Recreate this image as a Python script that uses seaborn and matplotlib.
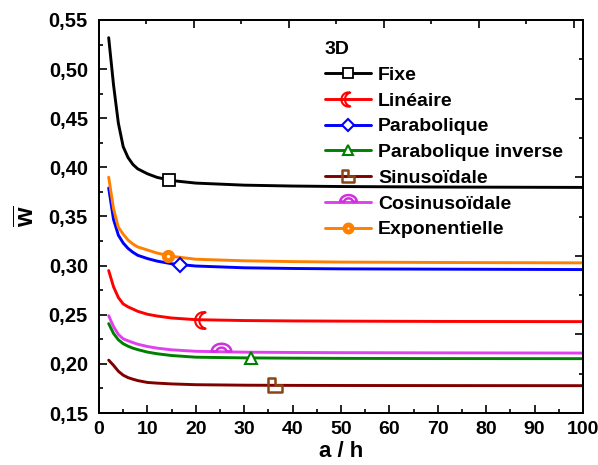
import numpy as np
import pandas as pd
import seaborn as sns
import matplotlib
matplotlib.use("Agg")
import matplotlib.pyplot as plt
from matplotlib.path import Path
from matplotlib.lines import Line2D
from matplotlib.ticker import MultipleLocator, FuncFormatter

# ---- data: dimensionless deflection vs slenderness ratio a/h ----
a_h = [2, 3, 4, 5, 6, 7, 8, 10, 12, 15, 20, 30, 40, 50, 70, 100]

w_fixe = [0.532, 0.484, 0.445, 0.421, 0.410, 0.403, 0.3985, 0.3935, 0.3898, 0.3866, 0.3840, 0.3819, 0.3810, 0.3805, 0.3800, 0.3796]
w_lineaire = [0.295, 0.2785, 0.2675, 0.261, 0.258, 0.2558, 0.2535, 0.2505, 0.2487, 0.2467, 0.2450, 0.2441, 0.2437, 0.2435, 0.2432, 0.2430]
w_parabolique = [0.379, 0.347, 0.331, 0.323, 0.3175, 0.3136, 0.3105, 0.3072, 0.3046, 0.3019, 0.2996, 0.2978, 0.2971, 0.2967, 0.2964, 0.2960]
w_parab_inverse = [0.241, 0.231, 0.2245, 0.2205, 0.218, 0.216, 0.2145, 0.2120, 0.2103, 0.2085, 0.2068, 0.2061, 0.2058, 0.2056, 0.2054, 0.2053]
w_sinus = [0.2038, 0.1985, 0.1925, 0.1885, 0.186, 0.1844, 0.1830, 0.1811, 0.1804, 0.1796, 0.1788, 0.1783, 0.1781, 0.1780, 0.1779, 0.1778]
w_cosinus = [0.249, 0.238, 0.230, 0.2255, 0.2235, 0.2217, 0.2200, 0.2177, 0.2160, 0.2143, 0.2128, 0.2119, 0.2116, 0.2114, 0.2112, 0.2110]
w_expo = [0.390, 0.358, 0.339, 0.332, 0.326, 0.322, 0.319, 0.3159, 0.3128, 0.3095, 0.3065, 0.3049, 0.3041, 0.3036, 0.3032, 0.3028]

labels = ["Fixe", "Linéaire", "Parabolique", "Parabolique inverse",
          "Sinusoïdale", "Cosinusoïdale", "Exponentielle"]
series = [w_fixe, w_lineaire, w_parabolique, w_parab_inverse, w_sinus, w_cosinus, w_expo]

# single symbol shown on each curve
marker_x = [14.5, 21.5, 16.7, 31.4, 36.4, 25.3, 14.2]
marker_y = [0.3870, 0.2448, 0.3004, 0.2060, 0.1782, 0.2123, 0.3100]

line_colors = ["#000000", "#FF0000", "#0000FF", "#008000", "#800000", "#E040F0", "#FF8000"]
marker_colors = ["#000000", "#FF0000", "#0000FF", "#008000", "#8B4513", "#D030E0", "#FF8000"]

# ---- custom symbols ----
def crescent():
    # unit disc minus a unit disc shifted to the right
    t1 = np.linspace(np.arccos(0.25), 2 * np.pi - np.arccos(0.25), 40)
    outer = np.c_[np.cos(t1), np.sin(t1)]
    t2 = np.linspace(np.arctan2(-0.968, -0.25) + 2 * np.pi, np.arctan2(0.968, -0.25), 40)
    inner = np.c_[0.5 + np.cos(t2), np.sin(t2)]
    verts = np.vstack([outer, inner, outer[:1]])
    return Path(verts, closed=True)

def step_shape():
    verts = [(-1, 1), (0, 1), (0, 0), (1, 0), (1, -1), (-1, -1), (-1, 1)]
    return Path(verts, closed=True)

def arch():
    # half ring standing on the curve
    t = np.linspace(np.pi, 0, 30)
    outer = np.c_[np.cos(t), np.sin(t)]
    inner = np.c_[0.5 * np.cos(t[::-1]), 0.5 * np.sin(t[::-1])]
    verts = np.vstack([outer, inner, outer[:1]])
    verts[:, 1] = verts[:, 1] * 0.8 + 0.1
    return Path(verts, closed=True)

markers = ["s", crescent(), "D", "^", step_shape(), arch(), "o"]
msizes = [8, 12, 7.5, 9, 10.5, 14, 6]
mews = [1.3, 1.5, 1.5, 1.5, 1.8, 1.8, 3.5]
faces = ["white", "none", "white", "white", "none", "none", "white"]

df = pd.concat(
    [pd.DataFrame({"a_h": a_h, "w": s, "serie": lab}) for s, lab in zip(series, labels)],
    ignore_index=True,
)

# ---- style ----
sns.set_theme(style="ticks")
plt.rcParams["font.family"] = ["Liberation Sans", "DejaVu Sans"]
plt.rcParams["font.weight"] = "bold"
plt.rcParams["text.color"] = "black"
plt.rcParams["axes.labelcolor"] = "black"
plt.rcParams["xtick.color"] = "black"
plt.rcParams["ytick.color"] = "black"
plt.rcParams["axes.edgecolor"] = "black"
plt.rcParams["mathtext.fontset"] = "custom"
plt.rcParams["mathtext.rm"] = "Liberation Sans:bold"
plt.rcParams["mathtext.it"] = "Liberation Sans:bold"
plt.rcParams["mathtext.bf"] = "Liberation Sans:bold"

fig = plt.figure(figsize=(5.98, 4.65), dpi=100)
ax = fig.add_axes([99 / 598, 1 - 413 / 465, 484 / 598, 393 / 465])

sns.lineplot(data=df, x="a_h", y="w", hue="serie", hue_order=labels,
             palette=dict(zip(labels, line_colors)), linewidth=2.1,
             legend=False, ax=ax, zorder=2)

for i in range(len(labels)):
    ax.plot(marker_x[i], marker_y[i], linestyle="none", marker=markers[i],
            markersize=msizes[i], markerfacecolor=faces[i],
            markeredgecolor=marker_colors[i], markeredgewidth=mews[i], zorder=3)

ax.set_xlim(0, 100)
ax.set_ylim(0.15, 0.55)
ax.xaxis.set_major_locator(MultipleLocator(10))
ax.xaxis.set_minor_locator(MultipleLocator(5))
ax.yaxis.set_major_locator(MultipleLocator(0.05))
ax.yaxis.set_minor_locator(MultipleLocator(0.025))
ax.yaxis.set_major_formatter(FuncFormatter(lambda v, p: f"{v:.2f}".replace(".", ",")))

ax.tick_params(which="both", direction="in", width=1.2, colors="black")
ax.tick_params(axis="x", labelsize=14)
ax.tick_params(axis="y", labelsize=14.5)
ax.tick_params(which="major", length=5.5)
ax.tick_params(axis="x", which="major", pad=6)
ax.tick_params(axis="y", which="major", pad=8)
ax.tick_params(which="minor", length=3)
for lab in ax.get_xticklabels() + ax.get_yticklabels():
    lab.set_fontweight("bold")
for sp in ax.spines.values():
    sp.set_linewidth(1.4)
    sp.set_color("black")

ax.set_xlabel("a / h", fontsize=16, fontweight="bold", labelpad=2)
ax.set_ylabel(r"$\overline{\mathrm{w}}$", fontsize=18, labelpad=7)

# top and right frame axes with their own tick spacing
axt = ax.twiny()
axt.set_xlim(0, 101.9)
axt.xaxis.set_major_locator(MultipleLocator(20))
axt.xaxis.set_minor_locator(MultipleLocator(10))
axt.tick_params(which="both", direction="in", labeltop=False, width=1.2, colors="black")
axt.tick_params(which="major", length=5.5)
axt.tick_params(which="minor", length=3)

axr = ax.twinx()
axr.set_ylim(0, 10)
axr.yaxis.set_major_locator(MultipleLocator(2))
axr.yaxis.set_minor_locator(MultipleLocator(1))
axr.tick_params(which="both", direction="in", labelright=False, width=1.2, colors="black")
axr.tick_params(which="major", length=5.5)
axr.tick_params(which="minor", length=3)
for a in (axt, axr):
    for sp in a.spines.values():
        sp.set_linewidth(1.4)
        sp.set_color("black")

handles = [
    Line2D([], [], color=line_colors[i], linewidth=2.1, marker=markers[i],
           markersize=msizes[i] * 0.85, markerfacecolor=faces[i],
           markeredgecolor=marker_colors[i], markeredgewidth=mews[i])
    for i in range(len(labels))
]
leg = fig.legend(handles, labels, loc="upper left", bbox_to_anchor=(325 / 598, 1 - 41 / 465),
                 frameon=False, title="3D", alignment="left",
                 prop={"size": 14, "weight": "bold"},
                 title_fontproperties={"size": 14, "weight": "bold"},
                 handlelength=2.37, handletextpad=0.36, labelspacing=0.42,
                 borderpad=0, borderaxespad=0)

fig.savefig("out.png", dpi=100)
